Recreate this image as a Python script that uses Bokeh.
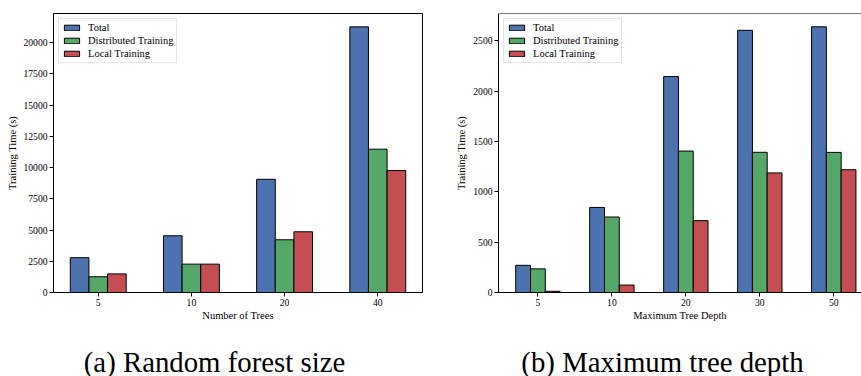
import numpy as np
from bokeh.plotting import figure
from bokeh.layouts import row, column
from bokeh.models import Range1d, FixedTicker, Legend, LegendItem, Span
from bokeh.core.properties import value
from bokeh.embed import file_html
from bokeh.resources import INLINE

series_names = ["Total", "Distributed Training", "Local Training"]
colors = ["#4C72B0", "#55A868", "#C44E52"]

trees_labels = ["5", "10", "20", "40"]
trees_total = [2790, 4540, 9060, 21260]
trees_dist = [1260, 2270, 4220, 11470]
trees_local = [1490, 2270, 4860, 9760]
trees_yticks = [0, 2500, 5000, 7500, 10000, 12500, 15000, 17500, 20000]

depth_labels = ["5", "10", "20", "30", "50"]
depth_total = [270, 845, 2145, 2605, 2640]
depth_dist = [235, 750, 1405, 1393, 1392]
depth_local = [12, 74, 714, 1188, 1220]
depth_yticks = [0, 500, 1000, 1500, 2000, 2500]

captions = ["(a) Random forest size", "(b) Maximum tree depth"]

FONT = "Liberation Serif"
BAR_W = 0.2
OFFSETS = [-0.2, 0.0, 0.2]
CHART_H = 336
CAP_H = 40


def make(labels, series, xr, yr, xlabel, width, mbl, mbr, yticks, full_outline):
    p = figure(width=width, height=CHART_H, output_backend="svg", toolbar_location=None,
               x_range=Range1d(*xr), y_range=Range1d(*yr),
               min_border_left=mbl, min_border_right=mbr, min_border_top=13, min_border_bottom=44,
               background_fill_color="white", border_fill_color="white")
    p.grid.visible = False
    idx = np.arange(len(labels))
    items = []
    for name, vals, off, col in zip(series_names, series, OFFSETS, colors):
        r = p.vbar(x=idx + off, top=vals, width=BAR_W, bottom=0,
                   fill_color=col, line_color="black", line_width=1)
        items.append(LegendItem(label=name, renderers=[r]))

    for ax in (p.xaxis[0], p.yaxis[0]):
        ax.axis_line_color = "black"
        ax.axis_line_width = 1
        ax.major_tick_line_color = "black"
        ax.major_tick_out = 4
        ax.major_tick_in = 0
        ax.minor_tick_line_color = None
        ax.major_label_text_font = FONT
        ax.major_label_text_font_size = "9.6px"
        ax.major_label_text_color = "black"
        ax.axis_label_text_font = FONT
        ax.axis_label_text_font_size = "10.5px"
        ax.axis_label_text_font_style = "normal"
        ax.axis_label_text_color = "black"

    p.xaxis[0].ticker = FixedTicker(ticks=list(idx))
    p.xaxis[0].major_label_overrides = {int(i): lab for i, lab in zip(idx, labels)}
    p.xaxis[0].major_label_standoff = 2
    p.xaxis[0].axis_label = xlabel
    p.xaxis[0].axis_label_standoff = 1

    p.yaxis[0].ticker = FixedTicker(ticks=yticks)
    p.yaxis[0].major_label_standoff = 2
    p.yaxis[0].axis_label = "Training Time (s)"
    p.yaxis[0].axis_label_standoff = 3

    if full_outline:
        p.outline_line_color = "black"
        p.outline_line_width = 1
    else:
        p.outline_line_color = None
        p.add_layout(Span(location=yr[1], dimension="width", line_color="black", line_width=1))

    leg = Legend(items=items, location="top_left", margin=5, padding=3,
                 label_text_font=FONT, label_text_font_size="10.5px", label_text_color="black",
                 glyph_width=19, glyph_height=7, label_height=11, label_standoff=7, spacing=2,
                 border_line_color="#cccccc", border_line_width=1,
                 background_fill_color="white", background_fill_alpha=0.8)
    p.add_layout(leg, "center")
    return p


def caption_fig(text, width, cx):
    c = figure(width=width, height=CAP_H, output_backend="svg", toolbar_location=None,
               x_range=Range1d(0, width), y_range=Range1d(0, CAP_H),
               x_axis_type=None, y_axis_type=None,
               min_border=0, min_border_left=0, min_border_right=0,
               min_border_top=0, min_border_bottom=0,
               background_fill_color="white", border_fill_color="white")
    c.outline_line_color = None
    c.grid.visible = False
    c.text(x=[cx], y=[15], text=[text], text_align="center", text_baseline="middle",
           text_font=value(FONT), text_font_size="28.8px", text_color="black")
    return c


p1 = make(trees_labels, [trees_total, trees_dist, trees_local], (-0.48, 3.48), (0, 22330),
          "Number of Trees", 430, 53, 8, trees_yticks, True)
p2 = make(depth_labels, [depth_total, depth_dist, depth_local], (-0.533, 4.375), (0, 2772),
          "Maximum Tree Depth", 431, 68, 0, depth_yticks, False)

c1 = caption_fig(captions[0], 430, 214)
c2 = caption_fig(captions[1], 431, 232)

layout = column(row(p1, p2), row(c1, c2))
open("out.html", "w").write(file_html(layout, INLINE))
